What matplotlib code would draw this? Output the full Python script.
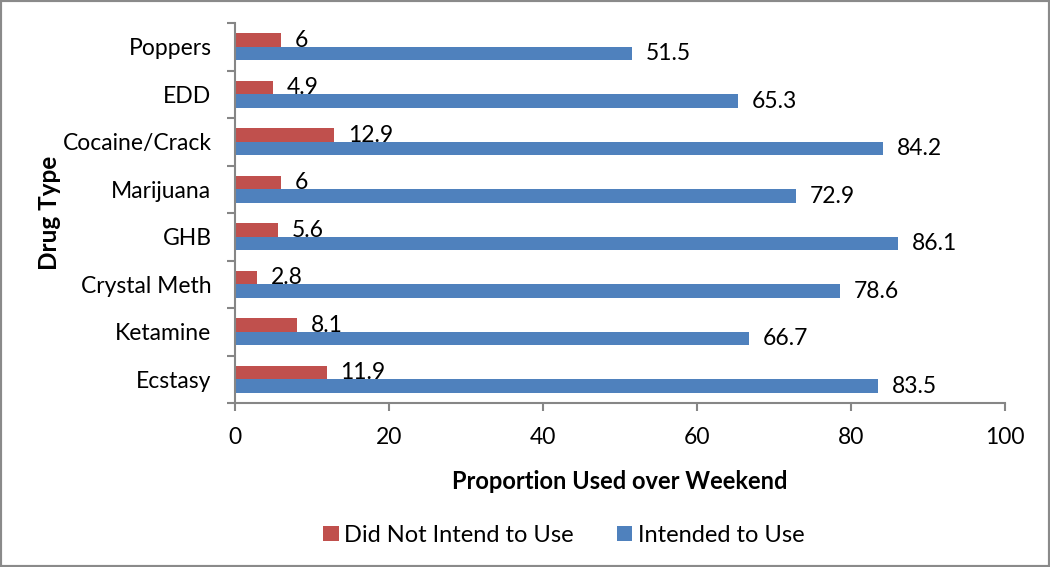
import matplotlib
matplotlib.use("Agg")
import matplotlib.pyplot as plt
import numpy as np
from matplotlib.patches import Rectangle

plt.rcParams['font.family'] = ['Lato', 'DejaVu Sans']

drugs = ["Ecstasy", "Ketamine", "Crystal Meth", "GHB", "Marijuana", "Cocaine/Crack", "EDD", "Poppers"]
nicht_geplant = [11.9, 8.1, 2.8, 5.6, 6, 12.9, 4.9, 6]
geplant = [83.5, 66.7, 78.6, 86.1, 72.9, 84.2, 65.3, 51.5]
x_ticks = [0, 20, 40, 60, 80, 100]

rot = "#C0504D"
blau = "#4F81BD"
grau = "#868686"
fs = 16.5

fig = plt.figure(figsize=(10.5, 5.67), dpi=100)
ax = fig.add_axes([0.2238, 0.2892, 0.7333, 0.6702])

y = np.arange(len(drugs))
h = 0.285
b_rot = ax.barh(y + h / 2, nicht_geplant, height=h, color=rot, label="Did Not Intend to Use")
b_blau = ax.barh(y - h / 2, geplant, height=h, color=blau, label="Intended to Use")
ax.bar_label(b_rot, labels=[f"{v:g}" for v in nicht_geplant], padding=10, fontsize=fs)
ax.bar_label(b_blau, labels=[f"{v:g}" for v in geplant], padding=10, fontsize=fs)

ax.set_xlim(0, 100)
ax.set_ylim(-0.5, len(drugs) - 0.5)
ax.set_xticks(x_ticks)
ax.set_yticks(y)
ax.set_yticklabels(drugs)
ax.set_yticks(np.arange(-0.5, len(drugs)), minor=True)
ax.tick_params(axis="y", which="major", length=0, pad=17, labelsize=fs)
ax.tick_params(axis="y", which="minor", length=6, color=grau, width=1.5, direction="out")
ax.tick_params(axis="x", length=6, color=grau, width=1.5, direction="out", pad=11, labelsize=fs)

for s in ["top", "right"]:
    ax.spines[s].set_visible(False)
for s in ["left", "bottom"]:
    ax.spines[s].set_color(grau)
    ax.spines[s].set_linewidth(1.5)

ax.set_xlabel("Proportion Used over Weekend", fontsize=17, fontweight="bold", labelpad=16)
ax.set_ylabel("Drug Type", fontsize=17.5, fontweight="bold", labelpad=1)

fig.legend(handles=[b_rot, b_blau], loc="center", bbox_to_anchor=(0.537, 0.056), ncol=2,
           frameon=False, fontsize=17, handlelength=0.65, handleheight=0.65, columnspacing=1.8,
           handletextpad=0.25)

fig.patches.append(Rectangle((0, 0), 1, 1, transform=fig.transFigure, fill=False,
                             edgecolor="#8a8a8a", linewidth=3))

fig.savefig("out.png", dpi=100)
